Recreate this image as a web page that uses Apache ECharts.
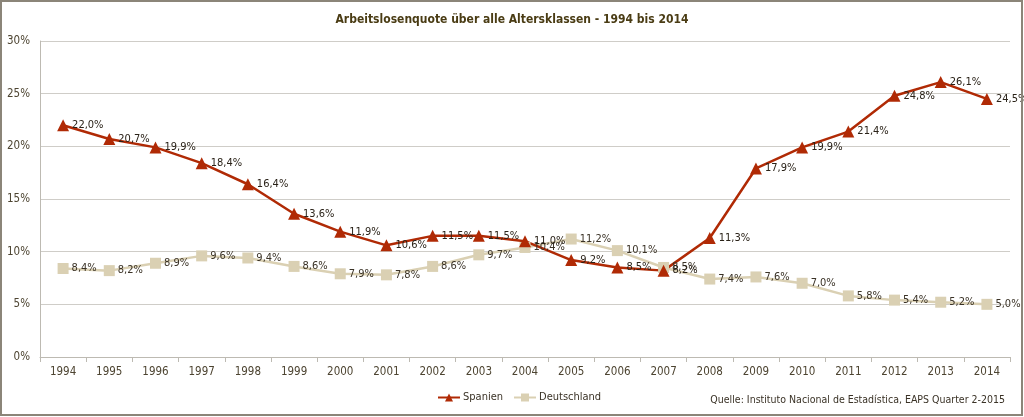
<!DOCTYPE html>
<html><head><meta charset="utf-8">
<script src="https://cdn.jsdelivr.net/npm/echarts@6/dist/echarts.min.js"></script>
<style>html,body{margin:0;padding:0;background:#fff}#c{width:1024px;height:417px}</style>
</head><body><div id="c"></div>
<script>
var years = ['1994','1995','1996','1997','1998','1999','2000','2001','2002','2003','2004','2005','2006','2007','2008','2009','2010','2011','2012','2013','2014'];
var spanien = [22.0,20.7,19.9,18.4,16.4,13.6,11.9,10.6,11.5,11.5,11.0,9.2,8.5,8.2,11.3,17.9,19.9,21.4,24.8,26.1,24.5];
var deutschland = [8.4,8.2,8.9,9.6,9.4,8.6,7.9,7.8,8.6,9.7,10.4,11.2,10.1,8.5,7.4,7.6,7.0,5.8,5.4,5.2,5.0];
var yTicks = [0,5,10,15,20,25,30];

var FONT = "'Liberation Sans Narrow','DejaVu Sans Condensed','Roboto Condensed',sans-serif";
var chart = echarts.init(document.getElementById('c'));
function fmt(v){ return v.toFixed(1).replace('.', ',') + '%'; }
chart.setOption({
  animation:false,
  title:{text:'Arbeitslosenquote über alle Altersklassen - 1994 bis 2014',left:'center',top:9,
    textStyle:{fontFamily:FONT,fontSize:12,fontWeight:'bold',color:'#4a3c14'}},
  grid:{left:40,right:14,top:41,bottom:60,containLabel:false},
  legend:{bottom:9,left:432,itemWidth:22,itemHeight:10,itemGap:10,
    textStyle:{fontFamily:FONT,fontSize:11,color:'#3a3226',padding:[0,0,0,-2]},
    data:['Spanien','Deutschland']},
  xAxis:{type:'category',data:years,boundaryGap:true,
    axisLine:{lineStyle:{color:'#bdbab2'}},
    axisTick:{show:true,length:5,lineStyle:{color:'#bdbab2'}},
    axisLabel:{fontFamily:FONT,fontSize:11.5,color:'#4d4431',margin:9}},
  yAxis:{type:'value',min:0,max:30,interval:5,
    axisLine:{show:true,lineStyle:{color:'#bdbab2'}},
    axisTick:{show:false},
    splitLine:{lineStyle:{color:'#cfcdc8'}},
    axisLabel:{fontFamily:FONT,fontSize:11.5,color:'#4d4431',margin:10,
      formatter:function(v){return yTicks.indexOf(v)>=0? v+'%':'';}}},
  series:[
    {name:'Deutschland',type:'line',data:deutschland,symbol:'rect',symbolSize:11,
      itemStyle:{color:'#dad0b3'},lineStyle:{color:'#dad0b3',width:2.5},
      label:{show:true,position:'right',distance:3,formatter:function(p){return fmt(p.value);},
        fontFamily:FONT,fontSize:11,color:'#3a3226'}},
    {name:'Spanien',type:'line',data:spanien,symbol:'triangle',symbolSize:12,
      itemStyle:{color:'#b02a05'},lineStyle:{color:'#b02a05',width:2.5},
      label:{show:true,position:'right',distance:3,formatter:function(p){return fmt(p.value);},
        fontFamily:FONT,fontSize:11,color:'#2a2218'}}
  ],
  graphic:[
    {type:'rect',shape:{x:1,y:1,width:1021,height:414},style:{fill:'none',stroke:'#8b8579',lineWidth:2},silent:true,z:100},
    {type:'text',right:19,bottom:11,style:{text:'Quelle: Instituto Nacional de Estadística, EAPS Quarter 2-2015',
      fontFamily:FONT,fontSize:10.5,fill:'#3a3226'}}
  ]
});
</script></body></html>
